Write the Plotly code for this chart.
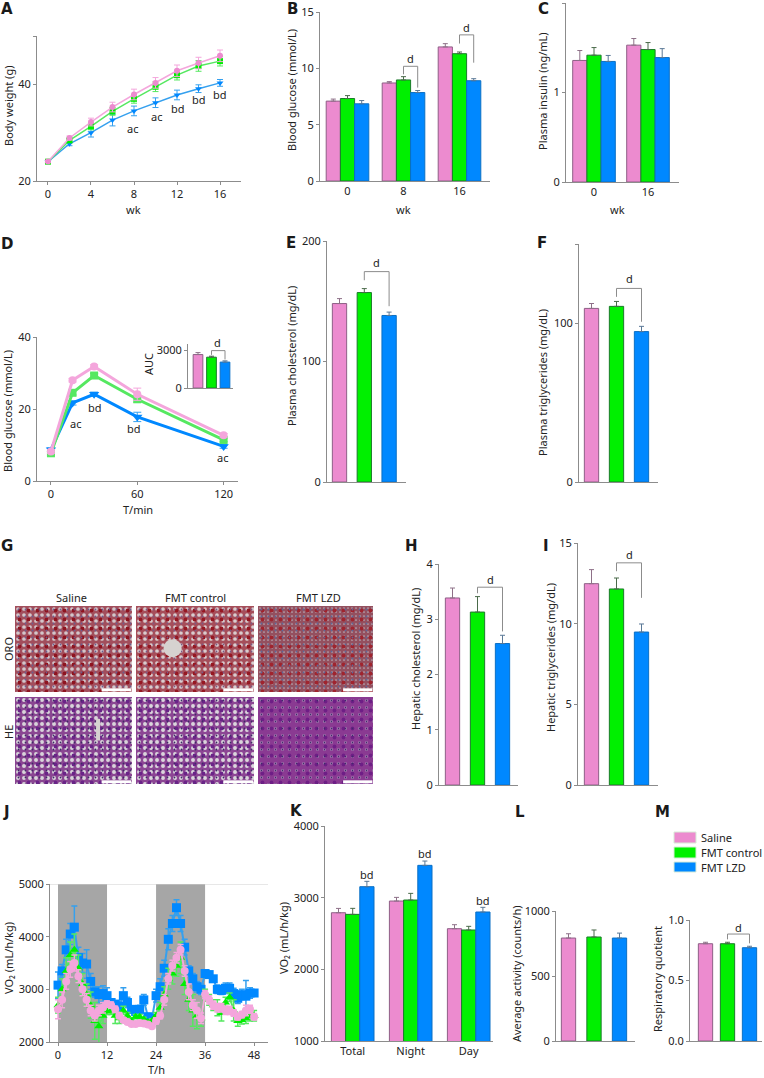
import plotly.graph_objects as go

W, H = 764, 1078
FONT = "Noto Sans"
TXT = "#222222"
AXC = "#8c8c8c"
TS = 11

SERIES = ["Saline", "FMT control", "FMT LZD"]
COL = ["#EC8BCF", "#00F000", "#0088FF"]
EDGE = ["#8E5F86", "#1B7A2A", "#0B6FC4"]
ERRC = ["#8E7088", "#4A6A4A", "#5A7896"]
LINE = ["#F4A6DC", "#55E860", "#35A0EE"]

# Panel A: body weight
a_wk = [0, 2, 4, 6, 8, 10, 12, 14, 16]
a_saline = [24.05, 28.9, 32.2, 35.3, 37.9, 40.3, 42.8, 44.4, 45.9]
a_ctrl = [24.0, 28.4, 31.3, 34.4, 37.0, 39.5, 41.9, 43.8, 44.8]
a_lzd = [24.0, 27.7, 30.0, 32.6, 34.5, 36.2, 37.8, 39.1, 40.3]
a_saline_e = [0.2, 0.4, 0.8, 1.0, 1.1, 1.1, 1.2, 1.2, 1.2]
a_ctrl_e = [0.2, 0.4, 0.7, 0.8, 0.9, 1.0, 1.0, 1.1, 1.0]
a_lzd_e = [0.2, 0.4, 0.9, 1.2, 1.0, 1.0, 1.0, 0.8, 0.7]
a_marks = [(7.9, 30.9, "ac"), (10.1, 33.3, "ac"), (12.05, 34.9, "bd"), (14.07, 36.8, "bd"), (16.0, 37.9, "bd")]

# Panel D: glucose tolerance
d_min = [0, 15, 30, 60, 120]
d_saline = [8.2, 28.0, 31.8, 24.1, 12.7]
d_ctrl = [7.7, 24.5, 29.3, 22.7, 11.4]
d_lzd = [8.7, 21.7, 24.1, 17.8, 9.6]
d_saline_e = [0.5, 0.5, 0.5, 1.7, 0.5]
d_ctrl_e = [0.5, 0.6, 0.6, 0.8, 0.5]
d_lzd_e = [0.5, 0.6, 0.6, 1.3, 0.5]
d_marks = [(17, 15.9, "ac"), (30.5, 20.5, "bd"), (57.6, 14.7, "bd"), (119, 6.5, "ac")]

# Bar panels: value rows per series, error rows per series
b_groups = ["0", "8", "16"]
b_vals = [[7.09, 8.7, 11.9], [7.32, 8.97, 11.3], [6.85, 7.85, 8.9]]
b_errs = [[0.18, 0.12, 0.29], [0.26, 0.29, 0.15], [0.29, 0.18, 0.18]]
c_groups = ["0", "16"]
c_vals = [[1.358, 1.529], [1.417, 1.48], [1.347, 1.39]]
c_errs = [[0.111, 0.074], [0.085, 0.078], [0.067, 0.10]]
e_vals = [148.1, 157.2, 138.2]
e_errs = [4.1, 3.3, 2.8]
f_vals = [109.4, 110.7, 94.8]
f_errs = [3.1, 3.1, 3.3]
h_vals = [3.385, 3.13, 2.56]
h_errs = [0.18, 0.28, 0.15]
i_vals = [12.48, 12.15, 9.48]
i_errs = [0.87, 0.68, 0.5]
k_groups = ["Total", "Night", "Day"]
k_vals = [[2790, 2953, 2567], [2767, 2967, 2549], [3153, 3451, 2800]]
k_errs = [[60, 51, 56], [84, 93, 51], [75, 60, 65]]
l_vals = [792, 800, 792]
l_errs = [33, 54, 38]
m_vals = [0.804, 0.804, 0.771]
m_errs = [0.012, 0.012, 0.012]
auc_vals = [2660, 2450, 2060]
auc_errs = [156, 80, 100]

# Panel J: VO2 over 48 h
j_hours = list(range(49))
j_lzd = [3080, 3350, 3750, 4050, 4180, 3600, 3500, 3480, 3150, 2950, 2900, 2920, 2880, 2750, 2720, 2680, 2880,
         2750, 2620, 2580, 2620, 2800, 2480, 2450, 2880, 3050, 3400, 3950, 4250, 4550, 4250, 3800, 3350, 3200,
         3050, 3000, 3300, 3280, 3200, 3000, 2980, 3020, 3020, 2920, 2830, 2900, 2870, 2930, 2930]
j_lzd_e = [250, 120, 200, 200, 400, 200, 180, 270, 150, 100, 150, 150, 150, 60, 60, 100, 150,
           100, 60, 60, 80, 100, 60, 60, 120, 150, 150, 200, 150, 150, 150, 150, 100, 100,
           100, 100, 60, 60, 60, 80, 80, 100, 100, 100, 100, 100, 300, 100, 60]
j_ctrl = [2700, 3000, 3350, 3650, 3750, 3400, 3100, 2900, 2700, 2400, 2300, 2500, 2580, 2600, 2500, 2450, 2600,
          2500, 2400, 2480, 2480, 2430, 2380, 2400, 2500, 2650, 2900, 3200, 3300, 3450, 3600, 3100, 2800, 2600,
          2500, 2450, 2900, 2800, 2700, 2650, 2550, 2750, 2850, 2600, 2400, 2420, 2450, 2500, 2500]
j_ctrl_e = [150, 200, 250, 250, 300, 250, 200, 200, 250, 350, 350, 150, 60, 80, 150, 100, 80,
            60, 40, 40, 40, 40, 40, 40, 60, 100, 150, 200, 200, 200, 300, 200, 200, 300,
            250, 150, 100, 100, 100, 150, 150, 100, 80, 200, 100, 80, 100, 100, 100]
j_saline = [2620, 2800, 3150, 3380, 3500, 3250, 3000, 2800, 2600, 2500, 2600, 2650, 2720, 2700, 2620, 2500, 2420,
            2380, 2340, 2340, 2360, 2350, 2330, 2300, 2400, 2500, 2800, 3200, 3450, 3600, 3750, 3350, 2950, 2700,
            2600, 2450, 2900, 2800, 2700, 2650, 2650, 2600, 2600, 2550, 2480, 2520, 2600, 2620, 2480]
j_saline_e = [180, 150, 150, 150, 150, 120, 120, 120, 100, 100, 100, 100, 60, 60, 60, 60, 40,
              40, 40, 40, 40, 40, 40, 40, 60, 60, 100, 100, 100, 100, 100, 100, 150, 100,
              150, 100, 80, 80, 80, 80, 80, 80, 80, 60, 60, 60, 100, 80, 60]
j_dark = [(0, 12), (24, 36)]

fig = go.Figure()
layout = {}
annots = []
shapes = []
axn = [0]


def new_axes(x0, x1, ytop, ybot):
    axn[0] += 1
    n = axn[0]
    s = "" if n == 1 else str(n)
    return n, s, [x0 / W, x1 / W], [1 - ybot / H, 1 - ytop / H]


def base_axis(**kw):
    d = dict(showgrid=False, zeroline=False, showline=True, linecolor=AXC, linewidth=1,
             tickcolor=AXC, ticklen=3, tickwidth=1, ticks="outside",
             tickfont=dict(family=FONT, size=TS, color=TXT), fixedrange=True)
    d.update(kw)
    return d


def set_axes(n, s, dx, dy, xkw, ykw):
    layout["xaxis" + s] = base_axis(domain=dx, anchor="y" + s, **xkw)
    layout["yaxis" + s] = base_axis(domain=dy, anchor="x" + s, **ykw)


def txt(x, y, text, size=TS, angle=0, bold=False, xanchor="center", yanchor="middle"):
    annots.append(dict(x=x / W, y=1 - y / H, xref="paper", yref="paper", text=text, showarrow=False,
                       textangle=angle, xanchor=xanchor, yanchor=yanchor,
                       font=dict(family="DejaVu Sans" if bold else FONT, size=size, color="#1a1a1a" if bold else TXT,
                                 weight="bold" if bold else "normal")))


def mark(s, x, y, text):
    annots.append(dict(x=x, y=y, xref="x" + s, yref="y" + s, text=text, showarrow=False,
                       font=dict(family=FONT, size=TS, color=TXT)))


def bar_panel(box, c0, sp, barw, yrange, yticks, vals, errs, groups=None, ylabels=None, brackets=(), notes=(), topminor=None):
    x0, x1, yt, yb = box
    n, s, dx, dy = new_axes(x0, x1, yt, yb)
    w = barw / sp
    grouped = groups is not None
    for si in range(3):
        if grouped:
            xs = [g + (si - 1) * w for g in range(len(groups))]
            ys, es = vals[si], errs[si]
        else:
            xs, ys, es = [si], [vals[si]], [errs[si]]
        fig.add_trace(go.Bar(x=xs, y=ys, width=w, name=SERIES[si], showlegend=False,
                             marker=dict(color=COL[si], line=dict(color=EDGE[si], width=1)),
                             error_y=dict(type="data", symmetric=False, array=es, arrayminus=[0] * len(es),
                                          color=ERRC[si], thickness=1, width=2.5),
                             xaxis="x" + s, yaxis="y" + s, hoverinfo="skip"))
    for g, sl, sr, ytop, yl, yr, yd in brackets:
        if grouped:
            xl, xr = g + (sl - 1) * w, g + (sr - 1) * w
        else:
            xl, xr = sl, sr
        fig.add_trace(go.Scatter(x=[xl, xl, xr, xr], y=[yl, ytop, ytop, yr], mode="lines",
                                 line=dict(color="#8c8c8c", width=1), showlegend=False,
                                 xaxis="x" + s, yaxis="y" + s, hoverinfo="skip"))
        if yd is not None:
            mark(s, (xl + xr) / 2, yd, "d")
    for g, si, y, text in notes:
        mark(s, g + (si - 1) * w, y, text)
    xkw = dict(range=[(x0 - c0) / sp, (x1 - c0) / sp], tickmode="array")
    if grouped:
        xkw.update(tickvals=list(range(len(groups))), ticktext=groups, ticks="")
    else:
        xkw.update(tickvals=[], ticks="")
    ykw = dict(range=yrange, tickmode="array", tickvals=yticks,
               ticktext=ylabels if ylabels else [str(t) for t in yticks])
    if topminor is not None:
        ykw["minor"] = dict(tickmode="array", tickvals=[topminor], ticks="outside", ticklen=3, tickcolor=AXC)
    set_axes(n, s, dx, dy, xkw, ykw)
    return s


# ---------- Panel A
n, s, dx, dy = new_axes(37, 241, 36, 181)
for name, ys, es, c, sym, sz, i in [("FMT LZD", a_lzd, a_lzd_e, LINE[2], "triangle-down", 6, 2),
                                    ("FMT control", a_ctrl, a_ctrl_e, LINE[1], "square", 6, 1),
                                    ("Saline", a_saline, a_saline_e, LINE[0], "circle", 6, 0)]:
    fig.add_trace(go.Scatter(x=a_wk, y=ys, name=name, mode="lines+markers", showlegend=False,
                             line=dict(color=c, width=1.5), marker=dict(color=COL[i], symbol=sym, size=sz),
                             error_y=dict(type="data", array=es, color=c, thickness=1, width=3),
                             xaxis="x" + s, yaxis="y" + s, hoverinfo="skip"))
set_axes(n, s, dx, dy, dict(range=[-1.02, 17.95], tickvals=[0, 4, 8, 12, 16]),
         dict(range=[20, 50], tickmode="array", tickvals=[20, 40],
              minor=dict(tickmode="array", tickvals=[50], ticks="outside", ticklen=3, tickcolor=AXC)))
for x, y, t in a_marks:
    mark(s, x, y, t)

# ---------- Panel B, C
bar_panel((320, 490, 12, 181), 347.5, 56, 14.2, [0, 15], [0, 5, 10, 15], b_vals, b_errs, b_groups,
          brackets=[(1, 1, 2, 10.18, 9.47, 8.29, 10.9), (2, 1, 2, 12.97, 12.2, 10.5, 13.65)])
bar_panel((566, 679, 3, 182), 594, 54, 14.2, [0, 2], [0, 1, 2], c_vals, c_errs, c_groups)

# ---------- Panel D
n, s, dx, dy = new_axes(37, 238, 337, 481)
for name, ys, es, c, sym, sz, i in [("FMT LZD", d_lzd, d_lzd_e, LINE[2], "triangle-down", 9, 2),
                                    ("FMT control", d_ctrl, d_ctrl_e, LINE[1], "square", 8, 1),
                                    ("Saline", d_saline, d_saline_e, LINE[0], "circle", 8, 0)]:
    fig.add_trace(go.Scatter(x=d_min, y=ys, name=name, mode="lines+markers", showlegend=False,
                             line=dict(color=COL[i] if i == 2 else c, width=3),
                             marker=dict(color=COL[i] if i == 2 else c, symbol=sym, size=sz),
                             error_y=dict(type="data", array=es, color=c, thickness=1, width=4),
                             xaxis="x" + s, yaxis="y" + s, hoverinfo="skip"))
set_axes(n, s, dx, dy, dict(range=[-9.7, 130], tickvals=[0, 60, 120]),
         dict(range=[0, 40], tickvals=[0, 20, 40], tickmode="array"))
for x, y, t in d_marks:
    mark(s, x, y, t)
# inset AUC
bar_panel((188, 233, 344, 388), 198, 13.5, 9.7, [0, 3500], [0, 3000], auc_vals, auc_errs,
          brackets=[(0, 1, 2, 2974, 2635, 2270, None)])
txt(217, 343, "d")

# ---------- Panel G: stained sections
img_cols = [(15, 132), (136, 254), (258, 373)]
img_rows = [(606, 692), (697, 784)]
# background, pale lumen dots, deep stain dots, bluish nuclei
img_styles = [[("#A24E5C", "#D2C6CA", "#8E1420", "#6A5E90"),
               ("#A64E5A", "#D8CCCE", "#961822", "#7A5A86"),
               ("#94505F", "#B8ACB6", "#A0242E", "#5A6A9C")],
              [("#8A4692", "#D8D4DA", "#6A2488", "#3E2A66"),
               ("#8C4694", "#DAD6DC", "#6A2488", "#3E2A66"),
               ("#8A3A92", "#C0A0C4", "#6E1E86", "#44286E")]]
img_dot = [[6, 6, 4], [6, 6, 7]]
img_solid = [[0.3, 0.3, 0.14], [0.34, 0.34, 0.12]]
veins = {(0, 1): (0.31, 0.51, 18)}
vein_lines = {(1, 0): (0.71, 0.5, 0.75)}
for r, (yt, yb) in enumerate(img_rows):
    for c, (x0, x1) in enumerate(img_cols):
        n, s, dx, dy = new_axes(x0, x1, yt, yb)
        bg, fg, deep, dk = img_styles[r][c]
        layers = [(".", img_dot[r][c], img_solid[r][c], fg, bg),
                  (".", 9, 0.14, deep, "rgba(0,0,0,0)"),
                  (".", 7, 0.05, dk, "rgba(0,0,0,0)")]
        for shape, size, solid, fgc, bgc in layers:
            fig.add_trace(go.Bar(x=[0.5], y=[1], width=1, showlegend=False, hoverinfo="skip",
                                 marker=dict(color="rgba(0,0,0,0)", line=dict(width=0),
                                             pattern=dict(shape=shape, size=size, solidity=solid,
                                                          fgcolor=fgc, bgcolor=bgc, fillmode="replace")),
                                 xaxis="x" + s, yaxis="y" + s))
        if (r, c) in veins:
            vx, vy, vs = veins[(r, c)]
            fig.add_trace(go.Scatter(x=[vx], y=[vy], mode="markers", showlegend=False, hoverinfo="skip",
                                     marker=dict(color="#D6D2D0", size=vs), xaxis="x" + s, yaxis="y" + s))
        if (r, c) in vein_lines:
            vx, v0, v1 = vein_lines[(r, c)]
            fig.add_trace(go.Scatter(x=[vx, vx], y=[v0, v1], mode="lines", showlegend=False, hoverinfo="skip",
                                     line=dict(color="#D6D2D0", width=4), xaxis="x" + s, yaxis="y" + s))
        set_axes(n, s, dx, dy, dict(range=[0, 1], visible=False, tickvals=[]),
                 dict(range=[0, 1], visible=False, tickvals=[]))
        shapes.append(dict(type="line", xref="x" + s + " domain", yref="y" + s + " domain",
                           x0=0.74, x1=0.995, y0=0.025, y1=0.025, line=dict(color="white", width=3)))

# ---------- Panels E, F
bar_panel((327, 406, 241, 482), 339.5, 24.8, 14.3, [0, 200], [0, 100, 200], e_vals, e_errs,
          brackets=[(0, 1, 2, 174.6, 167.4, 145.9, 182)])
bar_panel((579, 658, 244, 482), 591.5, 25, 14.3, [0, 150], [0, 100], f_vals, f_errs,
          topminor=150, brackets=[(0, 1, 2, 122, 116.7, 101, 128)])

# ---------- Panels H, I
bar_panel((439, 518, 564, 785), 452.5, 25, 14.3, [0, 4], [0, 1, 2, 3, 4], h_vals, h_errs,
          brackets=[(0, 1, 2, 3.58, 3.47, 2.78, 3.72)])
bar_panel((578, 658, 543, 785), 591.5, 25, 14.3, [0, 15], [0, 5, 10, 15], i_vals, i_errs,
          brackets=[(0, 1, 2, 13.77, 13.25, 11.6, 14.3)])

# ---------- Panel J
n, s, dx, dy = new_axes(50, 268, 884, 1042)
for name, ys, es, sym, sz, i in [("FMT LZD", j_lzd, j_lzd_e, "square", 9, 2),
                                 ("FMT control", j_ctrl, j_ctrl_e, "triangle-up", 8, 1),
                                 ("Saline", j_saline, j_saline_e, "circle", 8, 0)]:
    fig.add_trace(go.Scatter(x=j_hours, y=ys, name=name, mode="lines+markers", showlegend=False,
                             line=dict(color=LINE[i], width=2), marker=dict(color=COL[i] if i else LINE[0], symbol=sym, size=sz),
                             error_y=dict(type="data", array=es, color=LINE[i], thickness=1.5, width=3),
                             xaxis="x" + s, yaxis="y" + s, hoverinfo="skip"))
set_axes(n, s, dx, dy, dict(range=[-1.96, 51.4], tickvals=[0, 12, 24, 36, 48]),
         dict(range=[2000, 5000], tickvals=[2000, 3000, 4000, 5000], tickmode="array"))
for a, b in j_dark:
    shapes.append(dict(type="rect", xref="x" + s, yref="y" + s, x0=a, x1=b, y0=2000, y1=5000,
                       fillcolor="#A6A6A6", line=dict(width=0), layer="below"))
shapes.append(dict(type="line", xref="x" + s, yref="y" + s, x0=-1.96, x1=51.4, y0=5000, y1=5000,
                   line=dict(color="#cfcfcf", width=1)))

# ---------- Panels K, L, M
bar_panel((325, 493, 826, 1041), 352.7, 58, 14.2, [1000, 4000], [1000, 2000, 3000, 4000], k_vals, k_errs, k_groups,
          notes=[(0, 2, 3325, "bd"), (1, 2, 3610, "bd"), (2, 2, 2967, "bd")])
bar_panel((556, 635, 911, 1041), 568.5, 25.5, 14.3, [0, 1000], [0, 500, 1000], l_vals, l_errs)
bar_panel((690, 762, 920, 1041), 705.5, 22, 14.3, [0, 1.0], [0.0, 0.5, 1.0], m_vals, m_errs,
          ylabels=["0.0", "0.5", "1.0"], brackets=[(0, 1, 2, 0.884, 0.84, 0.807, 0.94)])

# ---------- Titles and letters
for t, x, y in [("A", 7, 9), ("B", 292, 9), ("C", 543, 9), ("D", 7, 244), ("E", 291, 243), ("F", 542, 243),
                ("G", 7, 546), ("H", 412, 546), ("I", 546, 546), ("J", 6, 812), ("K", 296, 811),
                ("L", 520, 812), ("M", 662, 812)]:
    txt(x, y, t, size=15, bold=True)
for t, x, y in [("Body weight (g)", 8, 106), ("Blood glucose (mmol/L)", 291, 90), ("Plasma insulin (ng/mL)", 543, 91),
                ("Blood glucose (mmol/L)", 8, 411), ("AUC", 148, 364), ("Plasma cholesterol (mg/dL)", 291, 356),
                ("Plasma triglycerides (mg/dL)", 543, 383), ("Hepatic cholesterol (mg/dL)", 415, 659),
                ("Hepatic triglycerides (mg/dL)", 550, 658), ("VO₂ (mL/h/kg)", 9, 958),
                ("VO₂ (mL/h/kg)", 283, 938), ("Average activity (counts/h)", 516, 974),
                ("Respiratory quotient", 657, 979), ("ORO", 8, 649), ("HE", 8, 732)]:
    txt(x, y, t, angle=-90)
for t, x, y in [("wk", 133, 209), ("wk", 403, 209), ("wk", 617, 210), ("T/min", 138, 510), ("T/h", 156, 1069),
                ("Saline", 71, 597), ("FMT control", 195, 597), ("FMT LZD", 318, 597)]:
    txt(x, y, t)

# ---------- Legend
for i, (yt, yb) in enumerate([(832, 843), (847, 858), (862, 872)]):
    shapes.append(dict(type="rect", xref="paper", yref="paper", x0=674 / W, x1=696 / W, y0=1 - yb / H, y1=1 - yt / H,
                       fillcolor=COL[i], line=dict(width=1, color="#d8ecd8")))
    txt(699, (yt + yb) / 2, SERIES[i], xanchor="left")

layout.update(width=W, height=H, margin=dict(l=0, r=0, t=0, b=0, autoexpand=False), paper_bgcolor="white",
              plot_bgcolor="rgba(0,0,0,0)", annotations=annots, shapes=shapes, showlegend=False, barmode="overlay",
              font=dict(family=FONT, size=TS, color=TXT))
fig.update_layout(**layout)
fig.write_html("out.html", config={"displayModeBar": False},
               post_script="document.body.style.margin='0';document.documentElement.style.overflow='hidden';")
